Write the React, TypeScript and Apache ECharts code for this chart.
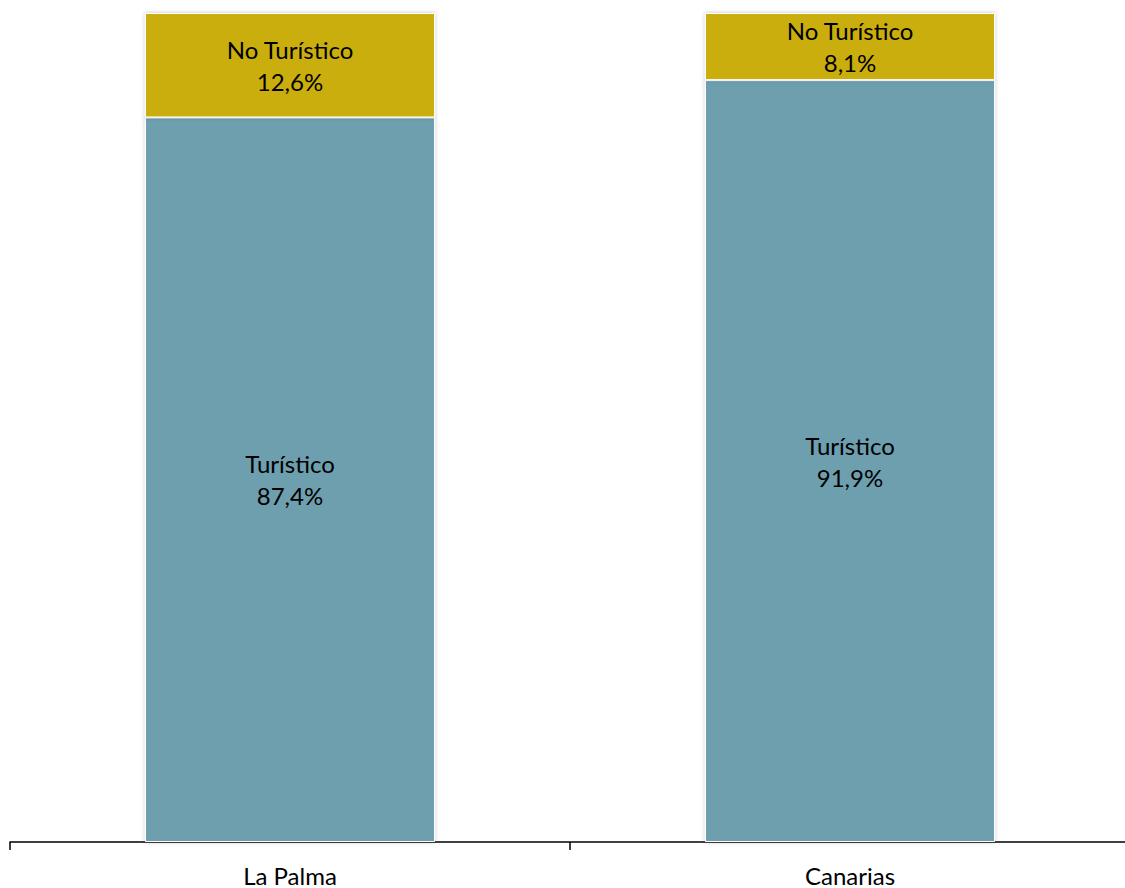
import React, { useEffect, useRef } from "react";
import * as echarts from "echarts";

const categories = ["La Palma", "Canarias"];
const turistico = [87.4, 91.9];
const noTuristico = [12.6, 8.1];
const seriesNames = ["Turístico", "No Turístico"];

const fmt = (v: number) => v.toFixed(1).replace(".", ",") + "%";

export default function App() {
  const ref = useRef<HTMLDivElement>(null);
  useEffect(() => {
    if (!ref.current) return;
    const chart = echarts.init(ref.current, null, { renderer: "svg" });
    const label = {
      show: true,
      position: "inside",
      color: "#000",
      fontFamily: "Lato, 'Open Sans', sans-serif",
      fontSize: 24,
      lineHeight: 32,
      formatter: (p: any) => `${p.seriesName}\n${fmt(p.value)}`,
    };
    chart.setOption({
      animation: false,
      grid: {
        left: 10,
        width: 1120,
        top: 13,
        bottom: 46,
        containLabel: false,
        outerBoundsMode: "none",
      },
      xAxis: {
        type: "category",
        data: categories,
        axisLine: { lineStyle: { color: "#000", width: 1.5 } },
        axisTick: { show: true, length: 8, lineStyle: { color: "#000", width: 1.5 } },
        axisLabel: {
          color: "#000",
          fontFamily: "Lato, 'Open Sans', sans-serif",
          fontSize: 24,
          lineHeight: 22,
          margin: 22,
        },
      },
      yAxis: {
        type: "value",
        min: 0,
        max: 100,
        show: false,
        splitLine: { show: false },
      },
      series: [
        {
          name: seriesNames[0],
          type: "bar",
          stack: "total",
          barWidth: "51.8%",
          data: turistico,
          itemStyle: {
            color: "#6E9FAF",
            borderColor: "#fff",
            borderWidth: 1,
            shadowColor: "rgba(0,0,0,0.25)",
            shadowBlur: 4,
          },
          label,
        },
        {
          name: seriesNames[1],
          type: "bar",
          stack: "total",
          barWidth: "51.8%",
          data: noTuristico,
          itemStyle: {
            color: "#CAAE08",
            borderColor: "#fff",
            borderWidth: 1,
            shadowColor: "rgba(0,0,0,0.25)",
            shadowBlur: 4,
          },
          label,
        },
      ],
    });
    return () => chart.dispose();
  }, []);
  return <div ref={ref} style={{ width: 1125, height: 888, position: "absolute", left: 0, top: 0 }} />;
}
